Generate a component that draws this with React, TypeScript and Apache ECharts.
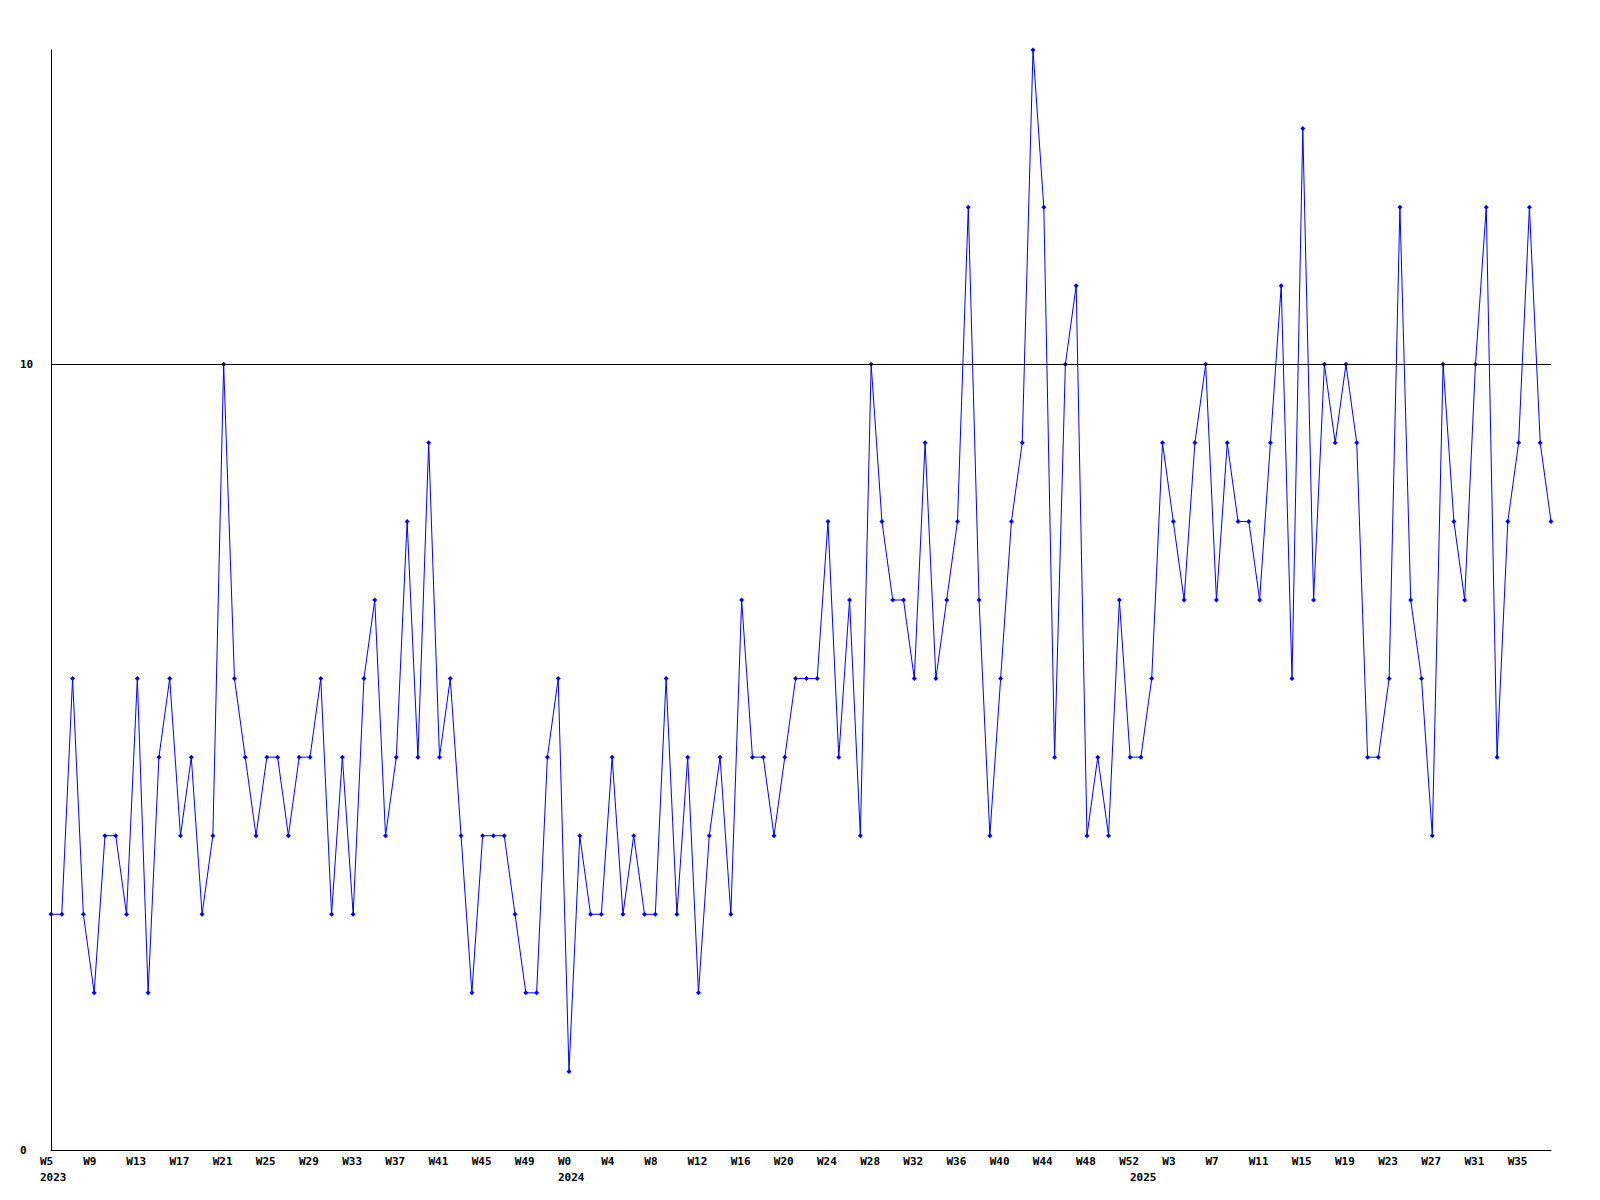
import React, { useEffect, useRef } from "react";
import * as echarts from "echarts";

// Week ranges per year (week numbers as shown on the axis)
const weekRanges: [number, number, number][] = [
  [2023, 5, 52],
  [2024, 0, 52],
  [2025, 0, 38],
];

const values: number[] = [
  3, 3, 6, 3, 2, 4, 4, 3, 6, 2, 5, 6, 4, 5, 3, 4, 10, 6, 5, 4, 5, 5, 4, 5, 5,
  6, 3, 5, 3, 6, 7, 4, 5, 8, 5, 9, 5, 6, 4, 2, 4, 4, 4, 3, 2, 2, 5, 6,
  1, 4, 3, 3, 5, 3, 4, 3, 3, 6, 3, 5, 2, 4, 5, 3, 7, 5, 5, 4, 5, 6, 6, 6,
  8, 5, 7, 4, 10, 8, 7, 7, 6, 9, 6, 7, 8, 12, 7, 4, 6, 8, 9, 14, 12, 5, 10,
  11, 4, 5, 4, 7, 5,
  5, 6, 9, 8, 7, 9, 10, 7, 9, 8, 8, 7, 9, 11, 6, 13, 7, 10, 9, 10, 9, 5, 5,
  6, 12, 7, 6, 4, 10, 8, 7, 10, 12, 5, 8, 9, 12, 9, 8,
];

const yMax = 14;
const refLineValue = 10;

const categories: string[] = [];
const yearStartIndex: Record<number, number> = {};
for (const [year, from, to] of weekRanges) {
  yearStartIndex[categories.length] = year;
  for (let w = from; w <= to; w++) categories.push("W" + w);
}

export default function App() {
  const ref = useRef<HTMLDivElement>(null);
  useEffect(() => {
    if (!ref.current) return;
    const chart = echarts.init(ref.current, undefined, { renderer: "svg" });
    const font = "'DejaVu Sans Mono', 'Liberation Mono', monospace";
    const txt = {
      fontFamily: font,
      fontWeight: "bold" as const,
      fontSize: 11,
      lineHeight: 16,
      color: "#000",
    };
    chart.setOption({
      animation: false,
      backgroundColor: "#ffffff",
      grid: { left: 51, right: 49, top: 50, bottom: 50, containLabel: false },
      xAxis: {
        type: "category",
        data: categories,
        boundaryGap: false,
        axisLine: { show: true, lineStyle: { color: "#000", width: 1 } },
        axisTick: { show: false },
        splitLine: { show: false },
        axisLabel: {
          interval: (idx: number) => idx % 4 === 0 || yearStartIndex[idx] !== undefined,
          formatter: (val: string, idx: number) => {
            const yr = yearStartIndex[idx];
            const w = idx % 4 === 0 ? "{w|" + val + "}" : "{w| }";
            return yr !== undefined ? w + "\n{w|" + yr + "}" : w;
          },
          ...txt,
          margin: 3,
          hideOverlap: false,
          rich: {
            w: { ...txt, width: 22, align: "left" },
          },
        },
      },
      yAxis: {
        type: "value",
        min: 0,
        max: yMax,
        interval: 10,
        axisLine: { show: true, lineStyle: { color: "#000", width: 1 } },
        axisTick: { show: false },
        splitLine: { show: false },
        axisLabel: {
          showMaxLabel: false,
          formatter: (v: number) => (v === yMax ? "" : String(v)),
          ...txt,
          align: "left",
          margin: 31,
        },
      },
      series: [
        {
          type: "line",
          data: values,
          symbol: "diamond",
          symbolSize: 5,
          showSymbol: true,
          showAllSymbol: true,
          lineStyle: { color: "#0000ff", width: 1 },
          itemStyle: { color: "#0000ff" },
          markLine: {
            silent: true,
            symbol: ["none", "none"],
            label: { show: false },
            lineStyle: { color: "#000", width: 1, type: "solid" },
            data: [{ yAxis: refLineValue }],
          },
          z: 3,
        },
      ],
    });
    return () => chart.dispose();
  }, []);
  return (
    <div
      ref={ref}
      style={{ position: "absolute", left: 0, top: 0, width: 1600, height: 1200 }}
    />
  );
}
